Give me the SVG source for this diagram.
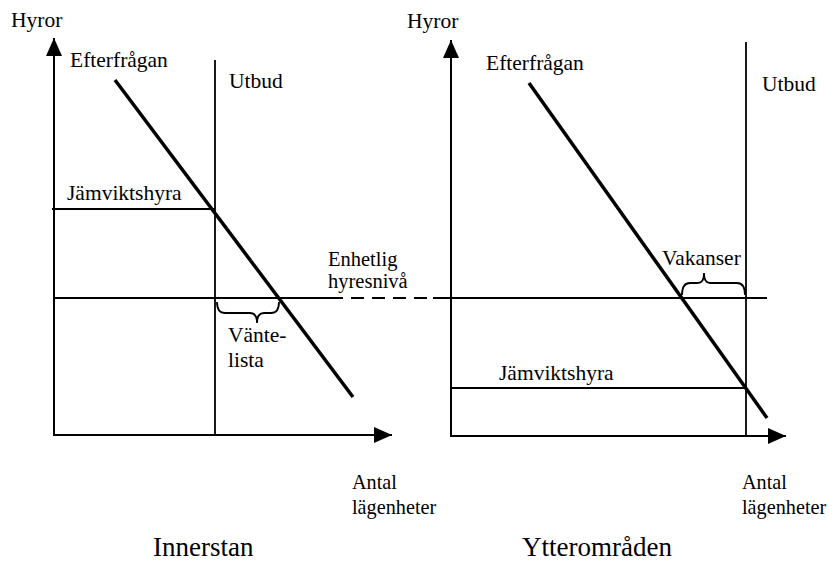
<svg xmlns="http://www.w3.org/2000/svg" width="836" height="561" viewBox="0 0 836 561">
<style>
text{font-family:"Liberation Serif","Times New Roman",serif;fill:#000}
.t{font-size:21.5px}
.s{font-size:20.5px}
.big{font-size:27px}
.ax{stroke:#000;stroke-width:2;fill:none}
.thin{stroke:#000;stroke-width:1.8;fill:none}
.dem{stroke:#000;stroke-width:3.5;fill:none}
.br{stroke:#000;stroke-width:1.8;fill:none}
</style>
<defs>
<marker id="arr" markerUnits="userSpaceOnUse" markerWidth="20" markerHeight="18" viewBox="-19 -9 20 18" refX="0" refY="0" orient="auto">
<path d="M0,0 L-18,-8 L-18,8 z" fill="#000"/>
</marker>
</defs>
<rect width="836" height="561" fill="#fff"/>
<g id="connectors">
<line class="ax" x1="54" y1="435" x2="54" y2="38" marker-end="url(#arr)"/>
<line class="ax" x1="53" y1="435" x2="392" y2="435" marker-end="url(#arr)"/>
<line class="ax" x1="451" y1="436" x2="451" y2="40" marker-end="url(#arr)"/>
<line class="ax" x1="450" y1="436" x2="786" y2="436" marker-end="url(#arr)"/>
<line class="thin" x1="54" y1="298" x2="330" y2="298"/>
<line class="thin" x1="330" y1="298" x2="433" y2="298" stroke-dasharray="13,8"/>
<line class="thin" x1="433" y1="298" x2="767" y2="298"/>
</g>
<g id="left-supply"><line class="thin" x1="215" y1="60" x2="215" y2="435"/></g>
<g id="left-demand"><line class="dem" x1="115" y1="80" x2="353" y2="397"/></g>
<g id="left-eq"><line class="thin" x1="52" y1="209" x2="215" y2="209"/></g>
<g id="left-brace"><path class="br" d="M217,302 Q217,313 225,313 L250,313 Q257,313 257,323 Q257,313 264,313 L271,313 Q279,313 279,302"/></g>
<g id="right-supply"><line class="thin" x1="746" y1="42" x2="746" y2="436"/></g>
<g id="right-demand"><line class="dem" x1="529" y1="83" x2="767" y2="418"/></g>
<g id="right-eq"><line class="thin" x1="451" y1="388" x2="746" y2="388"/></g>
<g id="right-brace"><path class="br" d="M682,295 Q682,283 690,283 L698,283 Q704,283 704,273 Q704,283 710,283 L737,283 Q745,283 745,295"/></g>
<g id="labels" font-family="Liberation Serif, Times New Roman, serif">
<text class="t" x="11" y="27">Hyror</text>
<text class="t" x="70" y="67">Efterfrågan</text>
<text class="t" x="229" y="88">Utbud</text>
<text class="t" x="67" y="200">Jämviktshyra</text>
<text class="s" x="328" y="266">Enhetlig</text>
<text class="s" x="328" y="288">hyresnivå</text>
<text class="t" x="228" y="342">Vänte-</text>
<text class="t" x="228" y="367">lista</text>
<text class="t" x="407" y="28">Hyror</text>
<text class="t" x="486" y="70">Efterfrågan</text>
<text class="t" x="762" y="91">Utbud</text>
<text class="t" x="662" y="265">Vakanser</text>
<text class="t" x="499" y="380">Jämviktshyra</text>
<text font-size="22" transform="translate(352,489) scale(0.92,1)">Antal</text>
<text font-size="22" transform="translate(352,514) scale(0.92,1)">lägenheter</text>
<text font-size="22" transform="translate(742,489) scale(0.92,1)">Antal</text>
<text font-size="22" transform="translate(742,514) scale(0.92,1)">lägenheter</text>
<text class="big" x="153" y="556">Innerstan</text>
<text class="big" x="522" y="556">Ytterområden</text>
</g>
</svg>
